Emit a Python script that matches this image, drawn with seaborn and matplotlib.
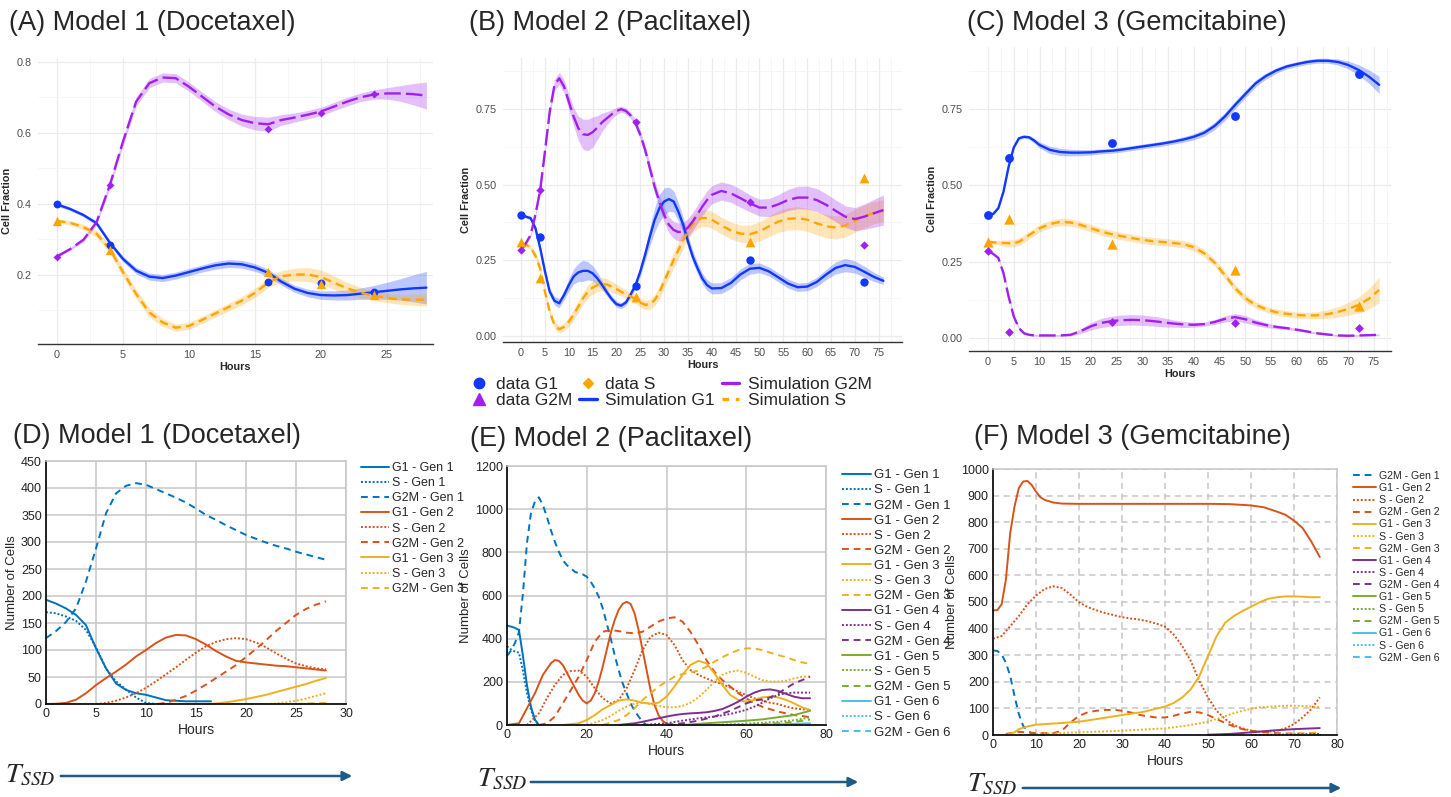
import matplotlib
matplotlib.use("Agg")
import matplotlib.pyplot as plt
import matplotlib.patches as mpatches
from matplotlib.lines import Line2D
import numpy as np
import seaborn as sns

# ---------------- top row: simulated cell fractions (ggplot look) ----------------
a_hours = list(range(0, 29))
a_g1 = [0.398, 0.385, 0.368, 0.345, 0.29, 0.244, 0.211, 0.194, 0.19, 0.197, 0.207, 0.217, 0.226, 0.231,
        0.229, 0.22, 0.205, 0.18, 0.16, 0.148, 0.142, 0.141, 0.142, 0.146, 0.15, 0.154, 0.158, 0.161, 0.163]
a_g1_band = [0.005, 0.005, 0.005, 0.006, 0.007, 0.008, 0.009, 0.01, 0.01, 0.01, 0.01, 0.01, 0.011, 0.011,
             0.011, 0.011, 0.01, 0.01, 0.01, 0.011, 0.012, 0.013, 0.014, 0.016, 0.019, 0.024, 0.03, 0.038, 0.046]
a_s = [0.351, 0.346, 0.334, 0.315, 0.272, 0.207, 0.145, 0.093, 0.065, 0.05, 0.055, 0.072, 0.09, 0.108,
       0.126, 0.148, 0.177, 0.195, 0.2, 0.2, 0.193, 0.177, 0.161, 0.149, 0.14, 0.134, 0.13, 0.129, 0.129]
a_s_band = [0.005, 0.006, 0.008, 0.01, 0.012, 0.013, 0.013, 0.013, 0.012, 0.01, 0.01, 0.01, 0.01, 0.011,
            0.012, 0.013, 0.014, 0.016, 0.018, 0.02, 0.02, 0.019, 0.017, 0.015, 0.013, 0.013, 0.014, 0.016, 0.018]
a_g2m = [0.251, 0.272, 0.298, 0.348, 0.452, 0.575, 0.688, 0.74, 0.756, 0.754, 0.73, 0.702, 0.674, 0.652,
         0.636, 0.627, 0.624, 0.636, 0.643, 0.651, 0.66, 0.674, 0.688, 0.7, 0.708, 0.711, 0.711, 0.709, 0.705]
a_g2m_band = [0.003, 0.004, 0.006, 0.008, 0.01, 0.012, 0.013, 0.013, 0.013, 0.013, 0.013, 0.013, 0.014, 0.015,
              0.017, 0.019, 0.02, 0.015, 0.013, 0.012, 0.012, 0.012, 0.012, 0.012, 0.013, 0.016, 0.022, 0.03, 0.038]
a_obs_hours = [0, 4, 16, 20, 24]
a_obs_g1 = [0.40, 0.282, 0.18, 0.175, 0.15]
a_obs_s = [0.35, 0.268, 0.207, 0.172, 0.142]
a_obs_g2m = [0.25, 0.452, 0.612, 0.657, 0.71]

b_hours = list(range(0, 41)) + list(range(42, 77, 2))
b_g1 = [0.40, 0.394, 0.389, 0.356, 0.29, 0.213, 0.146, 0.116, 0.108, 0.135, 0.168, 0.196, 0.21, 0.215, 0.215,
        0.207, 0.19, 0.168, 0.144, 0.122, 0.105, 0.1, 0.111, 0.138, 0.168, 0.213, 0.268, 0.328, 0.383, 0.422,
        0.444, 0.452, 0.444, 0.41, 0.367, 0.312, 0.262, 0.224, 0.19, 0.168, 0.157,
        0.158, 0.175, 0.203, 0.222, 0.225, 0.213, 0.193, 0.173, 0.161, 0.163, 0.178, 0.203, 0.225, 0.234,
        0.228, 0.212, 0.195, 0.182]
b_g1_band = [0.005, 0.005, 0.006, 0.008, 0.01, 0.012, 0.012, 0.014, 0.015, 0.015,
             0.02, 0.025, 0.03, 0.035, 0.03, 0.025, 0.02, 0.015, 0.012, 0.01, 0.01, 0.01, 0.01, 0.01, 0.012,
             0.015, 0.02, 0.03, 0.04, 0.045, 0.045, 0.04, 0.035, 0.03, 0.025, 0.02, 0.02, 0.018, 0.018, 0.018, 0.018,
             0.018, 0.018, 0.018, 0.018, 0.016, 0.015, 0.015, 0.015, 0.014, 0.014, 0.015, 0.017, 0.02, 0.022,
             0.02, 0.018, 0.015, 0.012]
b_s = [0.306, 0.302, 0.292, 0.265, 0.222, 0.146, 0.08, 0.036, 0.022, 0.03, 0.047, 0.07, 0.097, 0.125, 0.146,
       0.16, 0.168, 0.171, 0.17, 0.163, 0.155, 0.146, 0.138, 0.13, 0.122, 0.11, 0.103, 0.104, 0.118, 0.144,
       0.18, 0.215, 0.251, 0.284, 0.317, 0.345, 0.369, 0.383, 0.389, 0.389, 0.384,
       0.365, 0.348, 0.338, 0.336, 0.345, 0.362, 0.378, 0.387, 0.389, 0.384, 0.372, 0.362, 0.358, 0.365,
       0.38, 0.395, 0.407, 0.414]
b_s_band = [0.005, 0.006, 0.008, 0.01, 0.012, 0.012, 0.012, 0.012, 0.012,
            0.013, 0.015, 0.017, 0.019, 0.02, 0.021, 0.022, 0.022, 0.021, 0.02, 0.018, 0.016, 0.015, 0.014,
            0.014, 0.014,
            0.015, 0.016, 0.017, 0.018, 0.02, 0.022, 0.024, 0.026, 0.027, 0.028, 0.028, 0.028, 0.028, 0.028,
            0.028, 0.028,
            0.028, 0.028, 0.028, 0.03, 0.032, 0.034, 0.036, 0.037, 0.038, 0.038, 0.038, 0.038, 0.038, 0.038,
            0.038, 0.038, 0.037, 0.036]
b_g2m = [0.284, 0.306, 0.334, 0.4, 0.482, 0.609, 0.741, 0.829, 0.851, 0.824, 0.774, 0.725, 0.686, 0.666,
         0.664, 0.673, 0.688, 0.706, 0.719, 0.732, 0.743, 0.749, 0.743, 0.728, 0.703, 0.664, 0.615, 0.554,
         0.493, 0.444, 0.4, 0.367, 0.35, 0.343, 0.345, 0.358, 0.378, 0.402, 0.427, 0.449, 0.466,
         0.479, 0.471, 0.455, 0.438, 0.424, 0.424, 0.435, 0.449, 0.457, 0.457, 0.449, 0.433, 0.413, 0.394,
         0.386, 0.394, 0.405, 0.416]
b_g2m_band = [0.004, 0.005, 0.006, 0.008, 0.01, 0.012, 0.014,
              0.018, 0.02, 0.022, 0.025, 0.03, 0.04,
              0.05, 0.052, 0.05, 0.04,
              0.03, 0.022, 0.015, 0.012, 0.01, 0.01, 0.01, 0.012,
              0.014, 0.016, 0.018, 0.02, 0.022, 0.024, 0.026, 0.028, 0.03, 0.03, 0.03, 0.03, 0.03, 0.03, 0.03, 0.03,
              0.03, 0.03, 0.03, 0.028, 0.028, 0.03, 0.032, 0.035, 0.037, 0.038, 0.038, 0.037, 0.036, 0.036,
              0.038, 0.042, 0.046, 0.05]
b_obs_hours = [0, 4, 24, 48, 72]
b_obs_g1 = [0.40, 0.327, 0.165, 0.25, 0.178]
b_obs_s = [0.31, 0.193, 0.13, 0.31, 0.523]
b_obs_g2m = [0.285, 0.482, 0.705, 0.444, 0.30]

c_hours = list(range(0, 11)) + list(range(12, 77, 2))
c_g1 = [0.403, 0.406, 0.425, 0.479, 0.561, 0.624, 0.654, 0.659, 0.657, 0.646, 0.632,
        0.616, 0.609, 0.607, 0.607, 0.608, 0.611, 0.613, 0.617, 0.622, 0.627, 0.632, 0.637, 0.643, 0.65,
        0.659, 0.672, 0.694, 0.725, 0.763, 0.799, 0.834, 0.858, 0.876, 0.889, 0.897, 0.904, 0.908, 0.908,
        0.904, 0.894, 0.878, 0.856, 0.829]
c_g1_band = [0.003, 0.003, 0.004, 0.005, 0.005, 0.005, 0.005, 0.005, 0.006, 0.008, 0.01,
             0.012, 0.012, 0.011, 0.01, 0.009, 0.008, 0.008, 0.008, 0.008, 0.008, 0.008, 0.008, 0.008,
             0.009, 0.01, 0.011, 0.012, 0.013, 0.013, 0.012, 0.011, 0.01, 0.009,
             0.008, 0.008, 0.008, 0.008, 0.008, 0.01, 0.013, 0.017, 0.022, 0.028]
c_s = [0.315, 0.313, 0.312, 0.311, 0.31, 0.31, 0.315, 0.325, 0.337, 0.348, 0.359,
       0.373, 0.38, 0.378, 0.37, 0.359, 0.348, 0.34, 0.333, 0.327, 0.321, 0.317, 0.314, 0.311, 0.307,
       0.297, 0.277, 0.247, 0.206, 0.163, 0.13, 0.108, 0.094, 0.084, 0.079, 0.075, 0.073, 0.074, 0.078,
       0.085, 0.095, 0.108, 0.128, 0.157]
c_s_band = [0.004, 0.006, 0.008, 0.01, 0.011, 0.012, 0.012, 0.012, 0.012, 0.012, 0.012,
            0.012, 0.012, 0.012, 0.012, 0.012, 0.012, 0.012, 0.012, 0.012, 0.012, 0.012, 0.012, 0.012, 0.012,
            0.012, 0.012, 0.012, 0.012, 0.012, 0.012,
            0.011, 0.01, 0.01, 0.01, 0.01, 0.01, 0.012, 0.014, 0.017, 0.021, 0.026, 0.033, 0.042]
c_g2m = [0.286, 0.275, 0.262, 0.212, 0.135, 0.07, 0.032, 0.015, 0.01, 0.008, 0.008,
         0.008, 0.008, 0.01, 0.022, 0.038, 0.049, 0.055, 0.058, 0.059, 0.058, 0.055, 0.051, 0.047, 0.044,
         0.043, 0.045, 0.052, 0.062, 0.068, 0.061, 0.05, 0.042, 0.036, 0.032, 0.027, 0.021, 0.015, 0.011,
         0.008, 0.007, 0.008, 0.009, 0.01]
c_g2m_band = [0.003, 0.003, 0.004, 0.005, 0.006, 0.006, 0.005, 0.004, 0.003, 0.003, 0.003,
              0.003, 0.003, 0.004, 0.008, 0.012, 0.015, 0.016, 0.017, 0.017, 0.017, 0.016, 0.015, 0.012, 0.01,
              0.008, 0.007, 0.008, 0.01, 0.012, 0.012, 0.01, 0.008, 0.006, 0.005, 0.004, 0.004, 0.003, 0.003,
              0.003, 0.003, 0.003, 0.003, 0.003]
c_obs_hours = [0, 4, 24, 48, 72]
c_obs_g1 = [0.403, 0.59, 0.638, 0.727, 0.865]
c_obs_s = [0.315, 0.389, 0.308, 0.223, 0.103]
c_obs_g2m = [0.285, 0.02, 0.053, 0.048, 0.032]

# ---------------- bottom row: cells per phase and generation (MATLAB look) ----------------
d_g1_1_h = [0, 1, 2, 3, 4, 5, 6, 7, 8, 9, 10, 11, 12, 13, 14, 16.5]
d_g1_1 = [193, 186, 177, 165, 146, 103, 66, 38, 26, 20, 17, 12, 7, 6, 5, 5]
d_s_1_h = list(range(0, 12))
d_s_1 = [170, 168, 162, 154, 137, 105, 66, 42, 27, 12, 2, 0]
d_g2m_1_h = list(range(0, 29))
d_g2m_1 = [122, 135, 152, 177, 227, 288, 353, 390, 404, 409, 406, 398, 390, 382, 373, 362, 350, 341, 331,
           322, 313, 306, 299, 293, 288, 282, 277, 272, 267]
d_g1_2_h = list(range(0, 29))
d_g1_2 = [0, 0.5, 2, 8, 20, 35, 48, 60, 73, 88, 100, 113, 123, 128, 127, 120, 110, 98, 88, 80, 77, 75, 73,
          71, 70, 68, 66, 64, 62]
d_s_2_h = list(range(5, 29))
d_s_2 = [0, 2, 6, 12, 20, 30, 42, 55, 68, 82, 95, 107, 115, 120, 122, 120, 114, 105, 94, 84, 75, 70, 66, 64]
d_g2m_2_h = list(range(10, 29))
d_g2m_2 = [0, 0, 2, 8, 15, 25, 36, 48, 60, 72, 87, 102, 118, 135, 150, 165, 176, 184, 190]
d_g1_3_h = list(range(16, 29))
d_g1_3 = [0, 1, 3, 6, 9, 13, 17, 22, 27, 32, 37, 43, 48]
d_s_3_h = list(range(22, 29))
d_s_3 = [0, 1, 3, 6, 10, 15, 20]
d_g2m_3_h = [25, 26, 27, 28]
d_g2m_3 = [0, 1, 1.5, 2]

e_g1_1_h = list(range(0, 9))
e_g1_1 = [460, 456, 450, 440, 320, 185, 85, 25, 0]
e_s_1_h = list(range(0, 9))
e_s_1 = [365, 350, 340, 335, 250, 150, 70, 20, 0]
e_g2m_1_h = list(range(0, 36))
e_g2m_1 = [320, 345, 380, 430, 610, 842, 981, 1035, 1055, 1019, 965, 903, 849, 803, 764, 741, 726, 710, 703,
           698, 687, 664, 633, 595, 541, 471, 402, 324, 255, 193, 147, 100, 66, 39, 15, 0]
e_g1_2_h = [0, 3, 5, 7, 9, 11, 12, 13, 14, 16, 18, 19, 20, 21, 22, 23, 24, 25, 26, 27, 28, 29, 30, 31, 32,
            33, 34, 35, 36, 37, 38, 39, 40, 42]
e_g1_2 = [0, 8, 77, 147, 232, 286, 301, 297, 278, 208, 139, 113, 100, 113, 147, 201, 270, 347, 425, 486,
          533, 561, 571, 561, 517, 440, 347, 255, 162, 93, 46, 20, 5, 0]
e_s_2_h = [5, 8] + list(range(10, 77, 2))
e_s_2 = [0, 54, 124, 185, 232, 250, 252, 224, 170, 124, 100, 116, 170, 255, 347, 409, 428, 417, 371, 301,
         255, 232, 216, 201, 190, 173, 154, 139, 124, 113, 103, 97, 85, 77, 73, 70]
e_g2m_2_h = list(range(8, 77, 2))
e_g2m_2 = [0, 8, 39, 100, 162, 224, 301, 386, 432, 440, 435, 428, 425, 432, 456, 479, 494, 499, 479, 432,
           371, 301, 247, 208, 178, 147, 124, 100, 85, 73, 62, 54, 46, 42, 36]
e_g1_3_h = [14, 18] + list(range(20, 77, 2))
e_g1_3 = [0, 8, 23, 46, 73, 93, 113, 119, 113, 103, 99, 103, 131, 178, 232, 278, 297, 286, 240, 185, 139,
          116, 108, 116, 128, 131, 128, 116, 100, 82, 70]
e_s_3_h = [20] + list(range(24, 77, 2))
e_s_3 = [0, 23, 42, 66, 85, 100, 103, 97, 88, 82, 82, 88, 103, 128, 162, 201, 232, 247, 252, 242, 224, 208,
         201, 201, 205, 216, 224, 224]
e_g2m_3_h = [24] + list(range(28, 77, 2))
e_g2m_3 = [0, 23, 46, 77, 116, 147, 178, 201, 224, 236, 244, 252, 270, 293, 314, 332, 347, 355, 355, 347,
           335, 324, 314, 301, 290, 283]
e_g1_4_h = [28] + list(range(32, 77, 2))
e_g1_4 = [0, 8, 15, 23, 31, 39, 46, 51, 54, 56, 59, 65, 74, 90, 108, 131, 150, 162, 165, 158, 144, 131, 124, 124]
e_s_4_h = [34, 40, 44, 48, 52, 56, 60, 62, 64, 66, 68, 70, 72, 74, 76]
e_s_4 = [0, 8, 20, 31, 39, 51, 70, 85, 103, 124, 139, 147, 150, 150, 150]
e_g2m_4_h = [40, 44, 48, 52, 56, 60, 62, 64, 66, 68, 70, 72, 74, 76]
e_g2m_4 = [0, 8, 20, 39, 66, 100, 113, 119, 128, 147, 170, 193, 208, 224]
e_g1_5_h = [44, 50, 56, 60, 64, 68, 72, 76]
e_g1_5 = [0, 8, 15, 20, 26, 36, 46, 66]
e_s_5_h = [52, 60, 64, 68, 72, 76]
e_s_5 = [0, 6, 10, 15, 22, 35]
e_g2m_5_h = [58, 64, 68, 72, 76]
e_g2m_5 = [0, 4, 8, 14, 25]
e_g1_6_h = [62, 66, 70, 73, 76]
e_g1_6 = [0, 2, 4, 6, 8]
e_s_6_h = [70, 76]
e_s_6 = [0, 2]
e_g2m_6_h = [72, 76]
e_g2m_6 = [0, 1]

f_g2m_1_h = [0, 1, 2, 3, 4, 5, 6, 7, 8, 9, 10, 12]
f_g2m_1 = [318, 316, 303, 272, 222, 147, 79, 35, 16, 7, 4, 0]
f_g1_2_h = [0, 1, 2, 3, 4, 5, 6, 7, 8, 9, 10, 11, 12, 14, 16, 20, 30, 40, 50, 55, 60, 63, 66, 68, 70, 72, 74, 76]
f_g1_2 = [469, 469, 491, 584, 759, 859, 928, 953, 955, 940, 915, 894, 884, 874, 870, 869, 869, 869, 869, 868,
          863, 856, 840, 828, 806, 778, 728, 669]
f_s_2_h = list(range(0, 77, 2))
f_s_2 = [362, 372, 409, 447, 491, 524, 549, 559, 553, 528, 499, 481, 469, 459, 451, 443, 438, 434, 428, 419,
         407, 378, 335, 278, 203, 141, 91, 60, 37, 25, 16, 12, 12, 16, 25, 41, 66, 97, 141]
f_g2m_2_h = [3, 6, 10, 14] + list(range(16, 77, 2))
f_g2m_2 = [4, 12, 7, 7, 16, 47, 72, 85, 91, 94, 95, 91, 85, 76, 70, 66, 66, 72, 81, 87, 85, 75, 60, 45, 32,
           22, 16, 12, 10, 7, 6, 5, 5, 4, 4]
f_g1_3_h = [3, 5, 6, 8, 10, 12, 15, 20, 25, 30, 35, 40, 42, 44, 46, 48, 50, 52, 54, 56, 58, 60, 62, 64, 66,
            68, 70, 72, 74, 76]
f_g1_3 = [0, 10, 22, 32, 39, 41, 44, 50, 62, 75, 87, 107, 120, 141, 172, 222, 297, 372, 422, 447, 466, 482,
          499, 512, 518, 521, 521, 520, 518, 518]
f_s_3_h = [10, 20, 30, 40, 45, 50, 53, 56, 59, 62, 65, 68, 71, 74, 76]
f_s_3 = [4, 10, 16, 25, 35, 50, 66, 82, 95, 104, 107, 110, 110, 107, 104]
f_g2m_3_h = [60, 66, 70, 74, 76]
f_g2m_3 = [0, 3, 5, 8, 10]
f_g1_4_h = [50, 55, 60, 65, 70, 76]
f_g1_4 = [1, 4, 10, 17, 22, 26]
f_s_4_h = [60, 70, 76]
f_s_4 = [0, 2, 4]
f_zero_h = [70, 76]
f_zero = [0, 0]

# ---------------- styling ----------------
sns.set_style("white")
plt.rcParams['font.family'] = ['Liberation Sans', 'DejaVu Sans']
plt.rcParams['mathtext.fontset'] = 'stix'

GG_BLUE, GG_ORANGE, GG_PURPLE = '#1038FF', '#FFA500', '#A020F0'
M_BLUE, M_RED, M_YEL, M_PUR, M_GRN, M_CYAN = '#0072BD', '#D95319', '#EDB120', '#7E2F8E', '#77AC30', '#4DBEEE'
ARROW = '#1D5C88'

W, H = 1451, 797
fig = plt.figure(figsize=(W / 100, H / 100), dpi=100)


def px_axes(l, t, r, b):
    return fig.add_axes([l / W, 1 - b / H, (r - l) / W, (b - t) / H])


def px_text(x, y, s, **kw):
    fig.text(x / W, 1 - y / H, s, **kw)


def gg_panel(ax, hours, series, obs_hours, obs, xlim, ylim, xticks, yticks, ylabels, yminor):
    for vals, band, col, ls in series:
        v = np.array(vals)
        bw = np.array(band)
        ax.fill_between(hours, v - bw, v + bw, color=col, alpha=0.28, lw=0, zorder=1)
    for vals, band, col, ls in series:
        sns.lineplot(x=hours, y=vals, ax=ax, color=col, lw=1.7, linestyle=ls,
                     estimator=None, errorbar=None, legend=False, zorder=3)
    for vals, col, mk, s in obs:
        sns.scatterplot(x=obs_hours, y=vals, ax=ax, color=col, marker=mk, s=s, linewidth=0,
                        legend=False, zorder=4)
    ax.set_xlim(*xlim)
    ax.set_ylim(*ylim)
    ax.set_xticks(xticks)
    ax.set_xticks([t + 2.5 for t in xticks], minor=True)
    ax.set_yticks(yticks)
    ax.set_yticklabels(ylabels)
    ax.set_yticks(yminor, minor=True)
    ax.grid(which='major', color='#EBEBEB', lw=0.9)
    ax.grid(which='minor', color='#F5F5F5', lw=0.6)
    ax.set_axisbelow(True)
    for s in ['top', 'right', 'left']:
        ax.spines[s].set_visible(False)
    ax.spines['bottom'].set_color('#333333')
    ax.spines['bottom'].set_linewidth(1.0)
    ax.tick_params(which='major', length=2.5, width=0.7, color='#333333', labelsize=7.8,
                   labelcolor='#4D4D4D', pad=2)
    ax.tick_params(which='minor', length=0)
    ax.set_xlabel('Hours', fontsize=7.8, fontweight='bold', labelpad=1)
    ax.set_ylabel('Cell Fraction', fontsize=7.8, fontweight='bold', labelpad=3)


DASH_G2M = (0, (7, 2.2))
DASH_S = (0, (3.6, 2.2))

ax_a = px_axes(38, 58, 433, 344)
gg_panel(ax_a, a_hours,
         [(a_g1, a_g1_band, GG_BLUE, '-'), (a_s, a_s_band, GG_ORANGE, DASH_S), (a_g2m, a_g2m_band, GG_PURPLE, DASH_G2M)],
         a_obs_hours,
         [(a_obs_g1, GG_BLUE, 'o', 32), (a_obs_s, GG_ORANGE, '^', 45), (a_obs_g2m, GG_PURPLE, 'D', 16)],
         (-1.44, 28.5), (0.004, 0.811), [0, 5, 10, 15, 20, 25], [0.2, 0.4, 0.6, 0.8],
         ['0.2', '0.4', '0.6', '0.8'], [0.1, 0.3, 0.5, 0.7])

ax_b = px_axes(503, 58, 902, 342)
gg_panel(ax_b, b_hours,
         [(b_g1, b_g1_band, GG_BLUE, '-'), (b_s, b_s_band, GG_ORANGE, DASH_S), (b_g2m, b_g2m_band, GG_PURPLE, DASH_G2M)],
         b_obs_hours,
         [(b_obs_g1, GG_BLUE, 'o', 36), (b_obs_s, GG_ORANGE, '^', 50), (b_obs_g2m, GG_PURPLE, 'D', 18)],
         (-3.8, 79.9), (-0.02, 0.918), list(range(0, 76, 5)), [0.0, 0.25, 0.5, 0.75],
         ['0.00', '0.25', '0.50', '0.75'], [0.125, 0.375, 0.625, 0.875])

ax_c = px_axes(969, 47, 1391, 351)
gg_panel(ax_c, c_hours,
         [(c_g1, c_g1_band, GG_BLUE, '-'), (c_s, c_s_band, GG_ORANGE, DASH_S), (c_g2m, c_g2m_band, GG_PURPLE, DASH_G2M)],
         c_obs_hours,
         [(c_obs_g1, GG_BLUE, 'o', 40), (c_obs_s, GG_ORANGE, '^', 55), (c_obs_g2m, GG_PURPLE, 'D', 20)],
         (-3.7, 78.3), (-0.043, 0.953), list(range(0, 76, 5)), [0.0, 0.25, 0.5, 0.75],
         ['0.00', '0.25', '0.50', '0.75'], [0.125, 0.375, 0.625, 0.875])

# shared legend of the top row
top_handles = [
    Line2D([], [], ls='none', marker='o', ms=7.5, color=GG_BLUE),
    Line2D([], [], ls='none', marker='^', ms=8.5, color=GG_PURPLE),
    Line2D([], [], ls='none', marker='D', ms=5.5, color=GG_ORANGE),
    Line2D([], [], color=GG_BLUE, lw=2.4),
    Line2D([], [], color=GG_PURPLE, lw=2.4),
    Line2D([], [], color=GG_ORANGE, lw=2.4, linestyle=(0, (2, 2))),
]
top_labels = ['data G1', 'data G2M', 'data S', 'Simulation G1', 'Simulation G2M', 'Simulation S']
fig.legend(top_handles, top_labels, loc='upper left', bbox_to_anchor=(470 / W, 1 - 377 / H), ncol=3,
           frameon=False, fontsize=12.5, handlelength=1.0, handletextpad=0.5, columnspacing=0.4,
           labelspacing=0.05, borderpad=0, borderaxespad=0)


# ---------------- bottom row ----------------
def ml_panel(ax, series, xlim, ylim, xticks, yticks, dashed_grid, leg_xy, leg_fs, leg_sp):
    handles = []
    for hrs, vals, col, ls, lab in series:
        sns.lineplot(x=hrs, y=vals, ax=ax, color=col, lw=1.4, linestyle=ls,
                     estimator=None, errorbar=None, legend=False, clip_on=False)
        line = ax.lines[-1]
        line.set_label(lab)
        handles.append(line)
    ax.set_xlim(*xlim)
    ax.set_ylim(*ylim)
    ax.set_xticks(xticks)
    ax.set_yticks(yticks)
    ax.grid(True, color='#C6C6C6', lw=1.1, linestyle=(0, (4, 3)) if dashed_grid else '-')
    ax.set_axisbelow(True)
    for s in ['left', 'bottom']:
        ax.spines[s].set_color('#111111')
        ax.spines[s].set_linewidth(1.3)
    for s in ['top', 'right']:
        ax.spines[s].set_color('#C6C6C6')
        ax.spines[s].set_linewidth(1.1)
    ax.tick_params(direction='in', length=4, width=1, labelsize=9, colors='#222222', pad=3)
    ax.set_xlabel('Hours', fontsize=10, labelpad=2)
    ax.set_ylabel('Number of Cells', fontsize=9.5, labelpad=2)
    fig.legend(handles=handles, loc='upper left', bbox_to_anchor=(leg_xy[0] / W, 1 - leg_xy[1] / H),
               frameon=False, fontsize=leg_fs, handlelength=2.2, handletextpad=0.25,
               labelspacing=leg_sp, borderpad=0, borderaxespad=0)


DOT = (0, (1, 1))
DASH = (0, (3.5, 2.5))

ax_d = px_axes(46, 461, 346, 704)
ml_panel(ax_d, [
    (d_g1_1_h, d_g1_1, M_BLUE, '-', 'G1 - Gen 1'),
    (d_s_1_h, d_s_1, M_BLUE, DOT, 'S - Gen 1'),
    (d_g2m_1_h, d_g2m_1, M_BLUE, DASH, 'G2M - Gen 1'),
    (d_g1_2_h, d_g1_2, M_RED, '-', 'G1 - Gen 2'),
    (d_s_2_h, d_s_2, M_RED, DOT, 'S - Gen 2'),
    (d_g2m_2_h, d_g2m_2, M_RED, DASH, 'G2M - Gen 2'),
    (d_g1_3_h, d_g1_3, M_YEL, '-', 'G1 - Gen 3'),
    (d_s_3_h, d_s_3, M_YEL, DOT, 'S - Gen 3'),
    (d_g2m_3_h, d_g2m_3, M_YEL, DASH, 'G2M - Gen 3'),
], (0, 30), (0, 450), [0, 5, 10, 15, 20, 25, 30], list(range(0, 451, 50)), False, (361, 462), 9, 0.25)

ax_e = px_axes(507, 466, 826, 725)
ml_panel(ax_e, [
    (e_g1_1_h, e_g1_1, M_BLUE, '-', 'G1 - Gen 1'),
    (e_s_1_h, e_s_1, M_BLUE, DOT, 'S - Gen 1'),
    (e_g2m_1_h, e_g2m_1, M_BLUE, DASH, 'G2M - Gen 1'),
    (e_g1_2_h, e_g1_2, M_RED, '-', 'G1 - Gen 2'),
    (e_s_2_h, e_s_2, M_RED, DOT, 'S - Gen 2'),
    (e_g2m_2_h, e_g2m_2, M_RED, DASH, 'G2M - Gen 2'),
    (e_g1_3_h, e_g1_3, M_YEL, '-', 'G1 - Gen 3'),
    (e_s_3_h, e_s_3, M_YEL, DOT, 'S - Gen 3'),
    (e_g2m_3_h, e_g2m_3, M_YEL, DASH, 'G2M - Gen 3'),
    (e_g1_4_h, e_g1_4, M_PUR, '-', 'G1 - Gen 4'),
    (e_s_4_h, e_s_4, M_PUR, DOT, 'S - Gen 4'),
    (e_g2m_4_h, e_g2m_4, M_PUR, DASH, 'G2M - Gen 4'),
    (e_g1_5_h, e_g1_5, M_GRN, '-', 'G1 - Gen 5'),
    (e_s_5_h, e_s_5, M_GRN, DOT, 'S - Gen 5'),
    (e_g2m_5_h, e_g2m_5, M_GRN, DASH, 'G2M - Gen 5'),
    (e_g1_6_h, e_g1_6, M_CYAN, '-', 'G1 - Gen 6'),
    (e_s_6_h, e_s_6, M_CYAN, DOT, 'S - Gen 6'),
    (e_g2m_6_h, e_g2m_6, M_CYAN, DASH, 'G2M - Gen 6'),
], (0, 80), (0, 1200), [0, 20, 40, 60, 80], list(range(0, 1201, 200)), False, (842, 469), 9.5, 0.22)

ax_f = px_axes(993, 469, 1337, 735)
ml_panel(ax_f, [
    (f_g2m_1_h, f_g2m_1, M_BLUE, DASH, 'G2M - Gen 1'),
    (f_g1_2_h, f_g1_2, M_RED, '-', 'G1 - Gen 2'),
    (f_s_2_h, f_s_2, M_RED, DOT, 'S - Gen 2'),
    (f_g2m_2_h, f_g2m_2, M_RED, DASH, 'G2M - Gen 2'),
    (f_g1_3_h, f_g1_3, M_YEL, '-', 'G1 - Gen 3'),
    (f_s_3_h, f_s_3, M_YEL, DOT, 'S - Gen 3'),
    (f_g2m_3_h, f_g2m_3, M_YEL, DASH, 'G2M - Gen 3'),
    (f_g1_4_h, f_g1_4, M_PUR, '-', 'G1 - Gen 4'),
    (f_s_4_h, f_s_4, M_PUR, DOT, 'S - Gen 4'),
    (f_zero_h, f_zero, M_PUR, DASH, 'G2M - Gen 4'),
    (f_zero_h, f_zero, M_GRN, '-', 'G1 - Gen 5'),
    (f_zero_h, f_zero, M_GRN, DOT, 'S - Gen 5'),
    (f_zero_h, f_zero, M_GRN, DASH, 'G2M - Gen 5'),
    (f_zero_h, f_zero, M_CYAN, '-', 'G1 - Gen 6'),
    (f_zero_h, f_zero, M_CYAN, DOT, 'S - Gen 6'),
    (f_zero_h, f_zero, M_CYAN, DASH, 'G2M - Gen 6'),
], (0, 80), (0, 1000), list(range(0, 81, 10)), list(range(0, 1001, 100)), True, (1353, 471), 7.6, 0.2)

# panel titles
for x, y, s in [(9, 30, '(A) Model 1 (Docetaxel)'), (469, 30, '(B) Model 2 (Paclitaxel)'),
                (967, 30, '(C) Model 3 (Gemcitabine)'), (13, 443, '(D) Model 1 (Docetaxel)'),
                (470, 446, '(E) Model 2 (Paclitaxel)'), (974, 444, '(F) Model 3 (Gemcitabine)')]:
    px_text(x, y, s, fontsize=19.5, ha='left', va='baseline')

# T_SSD time arrows under the bottom panels
for tx, ty, x0, x1, ay in [(5, 782, 58, 355, 776), (477, 786, 528, 861, 782), (967, 791, 1020, 1344, 788)]:
    px_text(tx, ty, r'$T_{SSD}$', fontsize=20, ha='left', va='baseline')
    fig.add_artist(mpatches.FancyArrowPatch((x0 / W, 1 - ay / H), (x1 / W, 1 - ay / H),
                                            transform=fig.transFigure, arrowstyle='-|>',
                                            mutation_scale=14, lw=1.8, color=ARROW))

fig.savefig('out.png', dpi=100)
